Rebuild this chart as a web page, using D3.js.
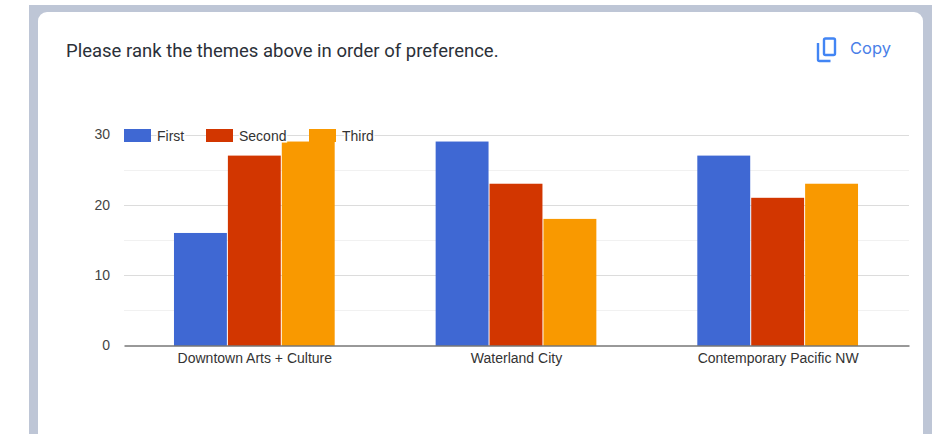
<!DOCTYPE html>
<html>
<head>
<meta charset="utf-8">
<title>Please rank the themes</title>
<script src="https://d3js.org/d3.v7.min.js"></script>
<style>
    html, body { margin: 0; padding: 0; background: #fff; overflow: hidden; }
    svg { display: block; }
    text { font-family: Arial, "Liberation Sans", sans-serif; }
</style>
</head>
<body>
<script>
    const categories = ['Downtown Arts + Culture', 'Waterland City', 'Contemporary Pacific NW'];
    const seriesNames = ['First', 'Second', 'Third'];
    const first = [16, 29, 27];
    const second = [27, 23, 21];
    const third = [29, 18, 23];
    const majorTicks = [0, 10, 20, 30];
    const minorTicks = [5, 15, 25];
    const colors = ['#3f68d3', '#d23600', '#f99900'];

    const width = 939, height = 434;
    const plot = { left: 124, right: 909, top: 134.5, bottom: 345.5 };

    const svg = d3.select('body').append('svg')
        .attr('width', width)
        .attr('height', height);

    // page backdrop and card
    svg.append('rect').attr('x', 29).attr('y', 5).attr('width', 903).attr('height', 429).attr('fill', '#bec6d6');
    svg.append('rect').attr('x', 38).attr('y', 12).attr('width', 885).attr('height', 430).attr('rx', 9).attr('fill', '#fff');

    svg.append('text')
        .attr('x', 66).attr('y', 57)
        .attr('font-size', 18.5)
        .style('font-family', 'Roboto, sans-serif')
        .attr('fill', '#2b3038')
        .text('Please rank the themes above in order of preference.');

    // copy icon
    const icon = svg.append('g').attr('fill', 'none').attr('stroke', '#4285f4').attr('stroke-width', 2.4);
    icon.append('rect').attr('x', 824).attr('y', 38.5).attr('width', 11).attr('height', 16.5).attr('rx', 1.5);
    icon.append('path').attr('d', 'M818 43v16.5q0 1.5 1.5 1.5h11');
    svg.append('text')
        .attr('x', 850).attr('y', 54)
        .attr('font-size', 16.5)
        .style('font-family', 'Inter, sans-serif')
        .attr('fill', '#4a7fe8')
        .text('Copy');

    const y = d3.scaleLinear().domain([0, 30]).range([plot.bottom, plot.top]);
    const x0 = d3.scaleBand().domain(categories).range([plot.left, plot.right]).paddingInner(0.382).paddingOuter(0.191);
    const x1 = d3.scaleBand().domain(seriesNames).range([0, x0.bandwidth()]);

    svg.append('g').selectAll('line').data(minorTicks).join('line')
        .attr('x1', plot.left).attr('x2', plot.right)
        .attr('y1', d => Math.round(y(d)) + 0.5).attr('y2', d => Math.round(y(d)) + 0.5)
        .attr('stroke', '#f1f1f1');

    svg.append('g').selectAll('line').data(majorTicks.filter(d => d > 0)).join('line')
        .attr('x1', plot.left).attr('x2', plot.right)
        .attr('y1', d => Math.round(y(d)) + 0.5).attr('y2', d => Math.round(y(d)) + 0.5)
        .attr('stroke', '#dcdcdc');

    // y labels
    const yAxis = svg.append('g')
        .attr('transform', `translate(${plot.left},0)`)
        .call(d3.axisLeft(y).tickValues(majorTicks).tickSize(0).tickPadding(14));
    yAxis.select('.domain').remove();
    yAxis.selectAll('text')
        .attr('font-size', 14)
        .attr('fill', '#444')
        .style('font-family', 'Arial, "Liberation Sans", sans-serif');

    const rows = [first, second, third];
    svg.append('g').selectAll('g').data(seriesNames).join('g')
        .attr('fill', (d, i) => colors[i])
        .selectAll('rect')
        .data((d, i) => categories.map((c, k) => ({ c: c, name: d, value: rows[i][k] })))
        .join('rect')
        .attr('x', d => x0(d.c) + x1(d.name))
        .attr('width', x1.bandwidth() - 1)
        .attr('y', d => y(d.value))
        .attr('height', d => y(0) - y(d.value));

    // baseline and category labels
    const xAxis = svg.append('g')
        .attr('transform', `translate(0,${plot.bottom})`)
        .call(d3.axisBottom(x0).tickSize(0).tickPadding(8));
    xAxis.select('.domain').attr('stroke', '#333').attr('stroke-width', 1);
    xAxis.selectAll('text')
        .attr('font-size', 14)
        .attr('fill', '#333')
        .style('font-family', 'Arial, "Liberation Sans", sans-serif');

    // legend sits on top of the 30 gridline
    const legendX = d3.scaleOrdinal().domain(seriesNames).range([124, 206, 309]);
    const legend = svg.append('g').selectAll('g').data(seriesNames).join('g')
        .attr('transform', d => `translate(${legendX(d)},129)`);
    legend.append('rect')
        .attr('width', 27).attr('height', 13)
        .attr('fill', (d, i) => colors[i]);
    legend.append('rect')
        .attr('x', 27).attr('y', -1).attr('width', d => d === 'Second' ? 54 : 38).attr('height', 15)
        .attr('fill', '#fff').attr('opacity', 0);
    legend.append('text')
        .attr('x', 33).attr('y', 11.5)
        .attr('font-size', 14)
        .attr('fill', '#333')
        .attr('paint-order', 'stroke')
        .attr('stroke', '#fff')
        .attr('stroke-width', 3)
        .text(d => d);
</script>
</body>
</html>
